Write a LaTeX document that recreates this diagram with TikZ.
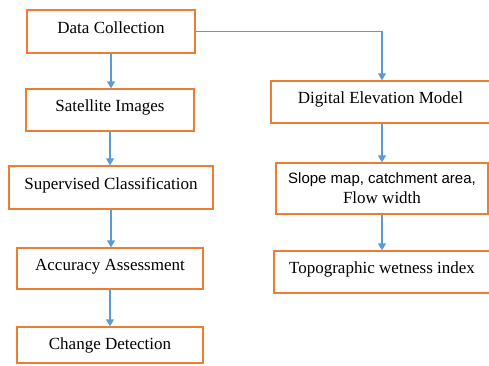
\documentclass[tikz,border=0pt]{standalone}
\usepackage{fontspec}
\setmainfont{Liberation Serif}
\newfontfamily\arialfont{Liberation Sans}
\usetikzlibrary{arrows.meta, positioning}
\definecolor{boxorange}{RGB}{237,125,49}
\definecolor{linkblue}{RGB}{91,155,213}

\begin{document}
\begin{tikzpicture}[x=1pt, y=-1pt,
  box/.style={rectangle, draw=boxorange, line width=1.3pt, fill=white, inner sep=0pt, align=center, font=\fontsize{17}{20}\selectfont},
  stage/.style={box, text height=12pt, text depth=9pt},
  arrow/.style={-{Triangle[length=7pt, width=8pt]}, line width=1.3pt, linkblue},
]
  \useasboundingbox (0,0) rectangle (489,365);
  % left column
  \node[stage, minimum width=168pt, minimum height=43pt] (collect) at (111,31.5) {Data Collection};
  \node[stage, minimum width=168pt, minimum height=42pt] (images) at (110,110) {Satellite Images};
  \node[stage, minimum width=204pt, minimum height=43pt] (classify) at (111,187.5) {Supervised Classification};
  \node[stage, minimum width=186pt, minimum height=41pt] (accuracy) at (110,268.5) {Accuracy Assessment};
  \node[stage, text depth=3pt, minimum width=186pt, minimum height=36pt] (change) at (110,345) {Change Detection};
  % right column
  \node[stage, minimum width=219pt, minimum height=42pt] (dem) at (380.5,102) {Digital Elevation Model};
  \node[box, minimum width=212pt, minimum height=51pt] (slope) at (382,188.5) {{\arialfont\fontsize{15}{20}\selectfont Slope map, catchment area,}\\Flow width};
  \node[stage, minimum width=216pt, minimum height=42pt] (twi) at (382,272) {Topographic wetness index};

  \draw[arrow] (collect.south) -- (collect.south |- images.north);
  \draw[arrow] (images.south) -- (images.south |- classify.north);
  \draw[arrow] (classify.south) -- (classify.south |- accuracy.north);
  \draw[arrow] (accuracy.south) -- (change.north);
  \draw[arrow] (collect.east) -| (dem.north -| slope.north);
  \draw[arrow] (dem.south -| slope.north) -- (slope.north);
  \draw[arrow] (slope.south) -- (slope.south |- twi.north);
\end{tikzpicture}
\end{document}
